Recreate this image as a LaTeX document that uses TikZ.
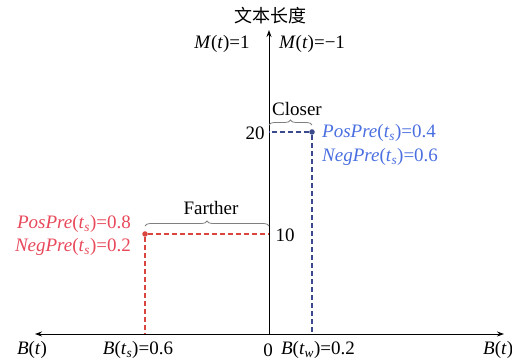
\documentclass[tikz,border=0pt]{standalone}
\usepackage{fontspec}
\setmainfont{Liberation Serif}
\newfontfamily\cjk{Noto Sans CJK SC}
\usetikzlibrary{arrows.meta,decorations.pathreplacing}
\definecolor{lred}{HTML}{E8485A}
\definecolor{dred}{HTML}{D9453F}
\definecolor{lblue}{HTML}{4A6FE0}
\definecolor{dblue}{HTML}{3A4A8C}
\newcommand\iv[1]{\textit{#1}}
\newcommand\subv[1]{\textsubscript{\textit{#1}}}
\begin{document}
\begin{tikzpicture}[x=1pt,y=-1pt,
  lbl/.style={font=\fontsize{19}{21}\selectfont, inner sep=0pt},
  axis/.style={line width=0.9pt, -{Stealth[length=7pt,width=5pt]}},
  dsh/.style={line width=1.3pt, dash pattern=on 5pt off 3pt},
  brc/.style={draw=gray, line width=0.8pt, decorate, decoration={brace, amplitude=5pt}},
  dot/.style={circle, fill, inner sep=0pt, minimum size=5.5pt}]
\useasboundingbox (0,0) rectangle (512,363);
\coordinate (O) at (269,334);
\coordinate (L) at (35,334);
\coordinate (R) at (504,334);
\coordinate (T) at (269,30);
\draw[axis] (O) -- (L);
\draw[axis] (O) -- (R);
\draw[axis] (O) -- (T);
% points
\node[dot, dred] (rp) at (145,234) {};
\node[dot, dblue] (bp) at (312,132) {};
\coordinate (ry) at (269,234);
\coordinate (rx) at (145,334);
\coordinate (by) at (269,132);
\coordinate (bx) at (312,334);
\draw[dsh, dred] (rp) -- (ry);
\draw[dsh, dred] (rp) -- (rx);
\draw[dsh, dblue] (bp) -- (by);
\draw[dsh, dblue] (bp) -- (bx);
% braces
\coordinate (fa) at (145,226);
\coordinate (fb) at (269,226);
\coordinate (ca) at (269,125);
\coordinate (cb) at (312,125);
\draw[brc] (fa) -- (fb);
\draw[brc] (ca) -- (cb);
\node[lbl] (far) at (211,208) {Farther};
\node[lbl] (clo) at (297,109) {Closer};
% axis labels
\node[lbl, font=\fontsize{18}{20}\selectfont] (yl) at (270,16) {\cjk 文本长度};
\node[lbl] (m1) at (222,44) {\iv{M}(\iv{t})=1};
\node[lbl] (m2) at (312,44) {\iv{M}(\iv{t})=−1};
\node[lbl] (t10) at (285,235) {10};
\node[lbl] (t20) at (255,133) {20};
\node[lbl] (bl) at (32,350) {\iv{B}(\iv{t})};
\node[lbl] (bs) at (138,350) {\iv{B}(\iv{t}\subv{s})=0.6};
\node[lbl] (zero) at (268,350) {0};
\node[lbl] (bw) at (318,350) {\iv{B}(\iv{t}\subv{w})=0.2};
\node[lbl, anchor=west] (br) at (483,350) {\iv{B}(\iv{t})};
% red labels
\node[lbl, lred, anchor=east] (rp1) at (131,224) {\iv{PosPre}(\iv{t}\subv{s})=0.8};
\node[lbl, lred, anchor=east] (rp2) at (131,247) {\iv{NegPre}(\iv{t}\subv{s})=0.2};
% blue labels
\node[lbl, lblue, anchor=west] (bp1) at (322,133) {\iv{PosPre}(\iv{t}\subv{s})=0.4};
\node[lbl, lblue, anchor=west] (bp2) at (322,157) {\iv{NegPre}(\iv{t}\subv{s})=0.6};
\end{tikzpicture}
\end{document}
